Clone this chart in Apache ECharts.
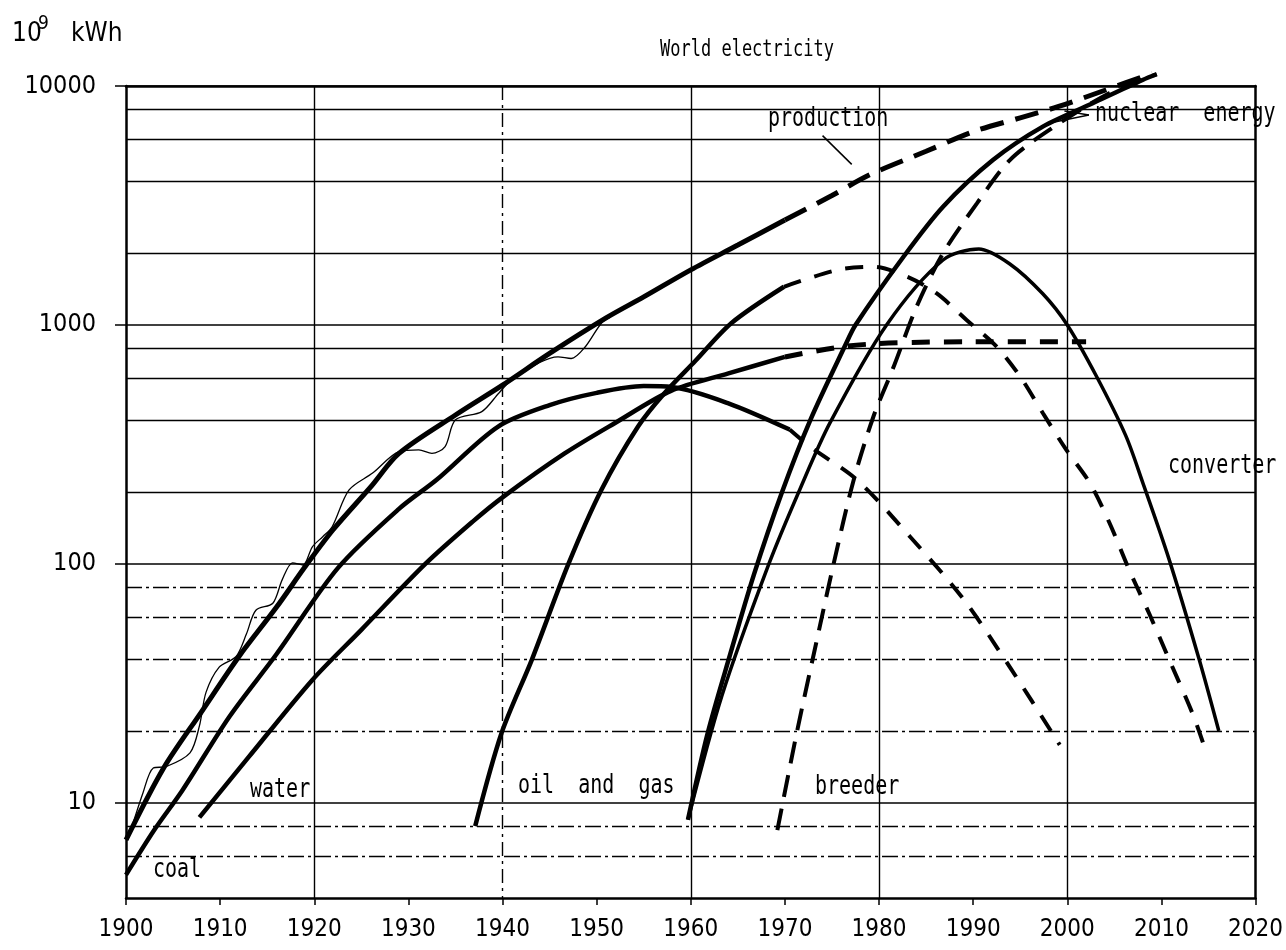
<!DOCTYPE html>
<html>
<head>
<meta charset="utf-8">
<title>World electricity</title>
<script src="https://cdn.jsdelivr.net/npm/echarts@6/dist/echarts.min.js"></script>
<style>
  html, body { margin: 0; padding: 0; background: #fff; }
  #chart { width: 1286px; height: 950px; }
</style>
</head>
<body>
<div id="chart"></div>
<script>
// axis ticks / grid values
const yTickValues = [10, 100, 1000, 10000]
const yMinorUpper = [200, 400, 600, 800, 2000, 4000, 6000, 8000]
const yMinorLower = [6, 8, 20, 40, 60, 80]
const xGridSolid = [1920, 1960, 1980, 2000]
const xGridDotted = [1940]

// [year, 10^9 kWh]
const productionRecorded = [
  [1900.2, 7], [1901.8, 11], [1902.9, 14], [1904.3, 14.2], [1906.8, 16.2], [1907.8, 21],
  [1908.5, 29], [1909.9, 37], [1911.7, 41], [1912.8, 51], [1913.8, 64], [1915.6, 68.5],
  [1916.6, 86], [1917.7, 101], [1918.8, 99], [1919.8, 118], [1920.9, 130], [1921.9, 143],
  [1923.7, 204], [1926.2, 240], [1929, 295], [1931.1, 300], [1932.5, 290], [1933.9, 310],
  [1935, 401], [1937.8, 434], [1939.6, 518], [1941, 589], [1945.9, 736], [1947.3, 724],
  [1948.8, 811], [1950.5, 1017], [1951.5, 1080]
]
const production = [
  [1900, 7], [1904, 14], [1908, 24], [1912, 41], [1916, 66], [1919, 97], [1922, 139],
  [1926, 210], [1929, 290], [1935, 420], [1940, 560], [1945, 760], [1951, 1070],
  [1955, 1310], [1960, 1700], [1965, 2160], [1970, 2750]
]
const productionForecast = [
  [1970, 2750], [1975, 3480], [1979, 4250], [1985, 5330], [1990, 6440], [1995, 7360],
  [1999, 8190], [2004, 9600], [2009, 11300]
]
const coal = [
  [1900, 5], [1903, 7.7], [1906, 11.3], [1911, 23], [1916, 42], [1922.5, 96], [1929, 170],
  [1933, 225], [1939.5, 375], [1945, 462], [1950, 520], [1955, 555], [1958, 550],
  [1964, 470], [1970.5, 365]
]
const coalForecast = [
  [1970.5, 365], [1972.7, 309], [1977.7, 224], [1983.3, 130], [1989, 71], [1993.9, 37],
  [1999.2, 17.5]
]
const water = [
  [1907.8, 8.7], [1913, 15.5], [1919.8, 32.7], [1925, 53], [1931.8, 100], [1936.8, 150],
  [1940, 190], [1946.6, 290], [1952, 390], [1957.9, 530], [1964, 627], [1970, 735]
]
const waterForecast = [
  [1970, 735], [1976, 810], [1981, 840], [1990, 850], [2002, 850]
]
const oilGas = [
  [1937.1, 8], [1939.9, 19.6], [1943.1, 39.6], [1947, 100], [1950.5, 204], [1954.4, 376],
  [1957.2, 518], [1960.5, 708], [1964.3, 1017], [1969.9, 1445]
]
const oilGasForecast = [
  [1969.9, 1445], [1975.6, 1700], [1979.4, 1750], [1983, 1592], [1986.1, 1358],
  [1989.3, 1050], [1992.5, 811], [1995, 608], [1997.4, 428], [1999.9, 300], [2002.4, 218],
  [2004.5, 148], [2006.6, 94], [2008.7, 62], [2010.8, 40], [2013.3, 23.7], [2014.5, 17.5]
]
const nuclear = [
  [1959.7, 8.5], [1961.8, 19.6], [1964.2, 42], [1966.7, 90], [1969.7, 200], [1972.7, 400],
  [1976.4, 820], [1977.5, 1000], [1982.6, 1930], [1986.8, 3125], [1992.1, 4900],
  [1997.4, 6760], [2002.7, 8470], [2008, 10600], [2009.5, 11200]
]
const converter = [
  [1959.7, 8.5], [1963.3, 28], [1968.3, 100], [1971.7, 210], [1974.8, 390],
  [1980.8, 1000], [1986.8, 1870], [1990.6, 2080], [1993.9, 1800], [1997.4, 1350],
  [2000, 1000], [2003.1, 610], [2006.2, 345], [2008, 220], [2010.8, 105], [2014, 40],
  [2016.1, 20]
]
const breeder = [
  [1969.2, 7.7], [1971.3, 20], [1973.1, 42.5], [1975.2, 101], [1977.3, 224], [1979.4, 413],
  [1981.5, 660], [1984, 1194], [1986.8, 1995], [1990.4, 3228], [1993.9, 4900],
  [1998.1, 6550], [2004.5, 9350], [2009.5, 11200]
]

const narrow = '"Liberation Sans Narrow", "DejaVu Sans Condensed", "Liberation Sans", sans-serif'
const mono = '"DejaVu Sans Mono", "Liberation Mono", monospace'

const curve = (name, data, width, dash) => ({
  name,
  type: 'line',
  data,
  symbol: 'none',
  smooth: 0.3,
  clip: false,
  silent: true,
  lineStyle: { color: '#000', width, type: dash || 'solid', cap: 'butt' }
})

const leader = (from, to) => [{ coord: from }, { coord: to }]

const note = (text, x, y, size) => ({
  type: 'text',
  x,
  y,
  scaleY: 1.3,
  silent: true,
  style: { text, fill: '#000', font: (size || 20) + 'px ' + mono, verticalAlign: 'middle' }
})

const plainNumber = v => String(Math.round(v))

const chart = echarts.init(document.getElementById('chart'), null, { renderer: 'canvas' })

const productionDashed = curve('production forecast', productionForecast, 5, [24, 12])
productionDashed.markLine = {
  silent: true,
  symbol: 'none',
  label: { show: false },
  lineStyle: { color: '#000', width: 1.5, type: 'solid' },
  data: [
    leader([1974, 6200], [1977.1, 4700]),
    leader([2002.3, 7560], [1998.0, 6990]),
    leader([2002.3, 7560], [1999.7, 7860])
  ]
}

const hiddenX = (position, values, lineType) => ({
  type: 'value',
  position,
  min: 1900,
  max: 2020,
  axisLine: { show: position === 'top', onZero: false, lineStyle: { color: '#000', width: 2.5 } },
  axisTick: { show: false, customValues: values },
  axisLabel: { show: false },
  splitLine: { show: true, lineStyle: { color: '#000', width: 1.4, type: lineType } }
})

const hiddenY = (values, withLine, lineType) => ({
  type: 'log',
  logBase: 10,
  position: 'right',
  min: 4,
  max: 10000,
  axisLine: { show: withLine, onZero: false, lineStyle: { color: '#000', width: 2.5 } },
  axisTick: { show: false, customValues: values },
  axisLabel: { show: false },
  splitLine: { show: true, lineStyle: { color: '#000', width: 1.4, type: lineType } }
})

const option = {
  animation: false,
  backgroundColor: '#fff',
  grid: { left: 126, right: 30, top: 86, bottom: 52 },
  xAxis: [
    {
      type: 'value',
      position: 'bottom',
      min: 1900,
      max: 2020,
      interval: 10,
      axisLine: { show: true, onZero: false, lineStyle: { color: '#000', width: 2.5 } },
      axisTick: { show: true, length: 7, lineStyle: { color: '#000', width: 1.5 } },
      axisLabel: { color: '#000', fontSize: 24, fontFamily: narrow, margin: 20, formatter: plainNumber },
      splitLine: { show: false }
    },
    hiddenX('top', xGridSolid, 'solid'),
    hiddenX('bottom', xGridDotted, [14, 5, 3, 5])
  ],
  yAxis: [
    {
      type: 'log',
      logBase: 10,
      position: 'left',
      min: 4,
      max: 10000,
      axisLine: { show: true, onZero: false, lineStyle: { color: '#000', width: 2.5 } },
      axisTick: { show: true, length: 11, customValues: yTickValues, lineStyle: { color: '#000', width: 1.5 } },
      axisLabel: { customValues: yTickValues, color: '#000', fontSize: 25, fontFamily: narrow, margin: 30, formatter: plainNumber },
      splitLine: { show: true, lineStyle: { color: '#000', width: 1.5 } }
    },
    hiddenY(yMinorUpper, true, 'solid'),
    hiddenY(yMinorLower, false, [16, 4, 3, 4])
  ],
  graphic: [
    { type: 'text', x: 12, y: 34, silent: true, style: { text: '10', fill: '#000', font: '26px ' + narrow, verticalAlign: 'middle' } },
    { type: 'text', x: 38, y: 24, silent: true, style: { text: '9', fill: '#000', font: '19px ' + narrow, verticalAlign: 'middle' } },
    { type: 'text', x: 71, y: 34, silent: true, style: { text: 'kWh', fill: '#000', font: '26px ' + narrow, verticalAlign: 'middle' } },
    note('World electricity', 660, 50, 17),
    note('production', 768, 119),
    note('nuclear  energy', 1095, 114),
    note('converter', 1168, 466),
    note('water', 250, 790),
    note('oil  and  gas', 518, 786),
    note('breeder', 815, 787),
    note('coal', 153, 870)
  ],
  series: [
    curve('production (recorded)', productionRecorded, 1.3),
    curve('production', production, 5),
    productionDashed,
    curve('coal', coal, 4.5),
    curve('coal forecast', coalForecast, 4, [18, 14]),
    curve('water', water, 4.5),
    curve('water forecast', waterForecast, 5, [18, 14]),
    curve('oil and gas', oilGas, 4.5),
    curve('oil and gas forecast', oilGasForecast, 4, [18, 14]),
    curve('nuclear energy', nuclear, 4.5),
    curve('converter', converter, 3.5),
    curve('breeder', breeder, 4, [22, 12])
  ]
}

chart.setOption(option)
</script>
</body>
</html>
